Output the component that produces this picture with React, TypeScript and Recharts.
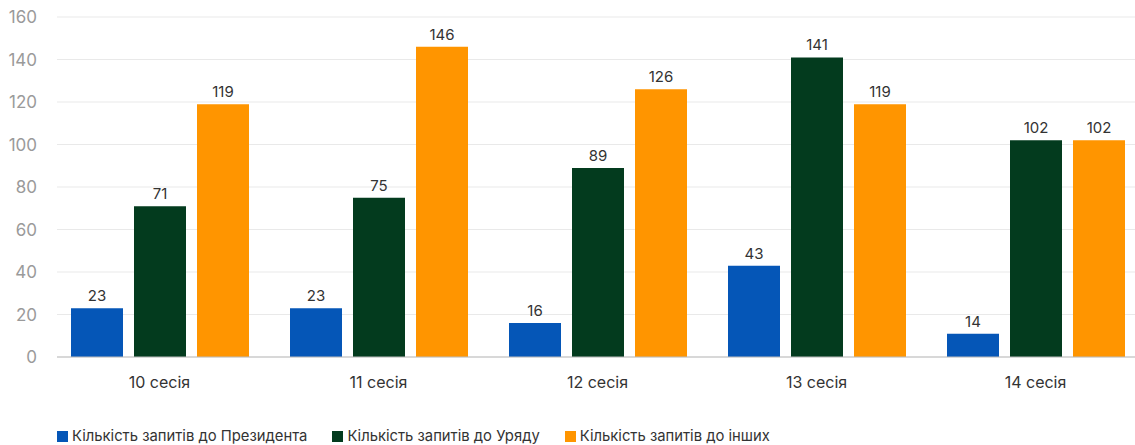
import { BarChart, Bar, XAxis, YAxis, CartesianGrid, LabelList } from 'recharts';

// Кількість запитів за сесіями
const sessions = ['10 сесія', '11 сесія', '12 сесія', '13 сесія', '14 сесія'];
const president = [23, 23, 16, 43, 11];
const presidentLabels = [23, 23, 16, 43, 14];
const government = [71, 75, 89, 141, 102];
const others = [119, 146, 126, 119, 102];
const yTicks = [0, 20, 40, 60, 80, 100, 120, 140, 160];

const series = [
  { key: 'president', label: 'presidentLabel', name: 'Кількість запитів до Президента', color: '#0556b7' },
  { key: 'government', label: 'government', name: 'Кількість запитів до Уряду', color: '#033b1e' },
  { key: 'others', label: 'others', name: 'Кількість запитів до інших', color: '#ff9500' },
];

const data = sessions.map((s, i) => ({
  session: s,
  president: president[i],
  presidentLabel: presidentLabels[i],
  government: government[i],
  others: others[i],
}));

const font = 'Inter, "Noto Sans", sans-serif';

export default function App() {
  return (
    <div style={{ position: 'absolute', left: 0, top: 0, width: 1135, height: 445, overflow: 'hidden', fontFamily: font }}>
      <BarChart
        width={1145}
        height={445}
        data={data}
        margin={{ top: 17, right: 0, bottom: 0, left: 0 }}
        barSize={52}
        barGap={11}
      >
        <CartesianGrid vertical={false} stroke="#e9e9e9" />
        <XAxis
          dataKey="session"
          height={88}
          tickLine={false}
          tickSize={0}
          tickMargin={20}
          axisLine={{ stroke: '#bcbcbc' }}
          padding={{ left: -7, right: 0 }}
          tick={{ fill: '#333', fontSize: 16, fontFamily: font }}
        />
        <YAxis
          width={57}
          domain={[0, 160]}
          ticks={yTicks}
          axisLine={false}
          tickLine={false}
          tickSize={0}
          tickMargin={20}
          tick={{ fill: '#9a9a9a', fontSize: 17, fontFamily: font }}
        />
        {series.map((s) => (
          <Bar key={s.key} dataKey={s.key} name={s.name} fill={s.color} isAnimationActive={false}>
            <LabelList dataKey={s.label} position="top" offset={7} fill="#333" fontSize={15} fontFamily={font} />
          </Bar>
        ))}
      </BarChart>
      <div style={{ position: 'absolute', left: 57, top: 427, display: 'flex', fontSize: 14.8, color: '#333', lineHeight: '18px' }}>
        {series.map((s) => (
          <div key={s.key} style={{ display: 'flex', alignItems: 'center', marginRight: 25 }}>
            <span style={{ width: 11, height: 11, background: s.color, marginRight: 4, display: 'inline-block' }} />
            <span>{s.name}</span>
          </div>
        ))}
      </div>
    </div>
  );
}
